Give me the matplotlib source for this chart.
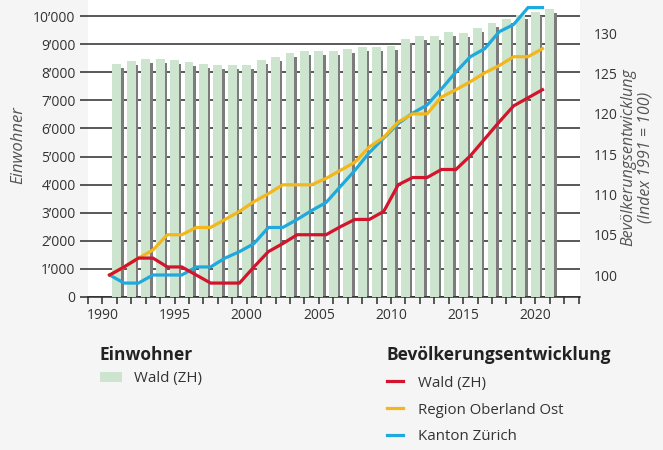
import numpy as np
import matplotlib
matplotlib.use('Agg')
import matplotlib.pyplot as plt
from matplotlib.lines import Line2D
from matplotlib.patches import Patch
from matplotlib.ticker import FuncFormatter, MultipleLocator

plt.rcParams['font.family'] = ['Open Sans', 'DejaVu Sans']

years = np.arange(1991, 2022)

# Einwohner Wald (ZH)
einwohner = [8280, 8400, 8470, 8470, 8435, 8375, 8290, 8255, 8255, 8270,
             8425, 8540, 8670, 8755, 8755, 8745, 8825, 8910, 8910, 8945,
             9180, 9300, 9300, 9420, 9410, 9560, 9740, 9890, 10035, 10150, 10250]

# Bevoelkerungsentwicklung, Index 1991 = 100
idx_wald = [100, 101, 102.1, 102.1, 101, 101, 100, 99, 99, 99,
            101, 102.9, 103.9, 105, 105, 105, 106, 106.9, 106.9, 107.9,
            111.2, 112.1, 112.1, 113.1, 113.1, 114.8, 116.9, 119, 121, 122, 123]
idx_oberland = [100, 101, 102.1, 103.1, 105, 105, 105.9, 105.9, 106.9, 107.9,
                109.1, 110.1, 111.2, 111.2, 111.2, 112, 113, 114, 115.9, 117.1,
                119, 120, 120, 122.1, 123, 124, 125.1, 126, 127.1, 127.1, 128.1]
idx_kanton = [100, 99, 99, 100, 100, 100, 101, 101, 102.1, 102.9,
              103.9, 105.9, 105.9, 106.9, 108, 109, 111, 113, 115.2, 117,
              118.8, 120.1, 121.1, 123.1, 125.2, 127.1, 128.1, 130.2, 131.1, 133.2, 133.2]

green = '#cde4cf'
red = '#d2142c'
yellow = '#f3b61b'
blue = '#1fa9dc'
txt = '#333333'

fig = plt.figure(figsize=(6.63, 4.5), dpi=100, facecolor='#f5f5f5')
ax = fig.add_axes([88 / 663, 153 / 450, 492 / 663, 297 / 450])
ax.set_facecolor('white')

# gridlines behind the bars
for v in range(0, 10001, 1000):
    ax.axhline(v, color='#2b2b2b', lw=1.1, zorder=1)

# bars with a small drop shadow
ax.bar(years + 0.17, np.array(einwohner) - 140, width=0.62, color='#7c7c7c', zorder=2)
ax.bar(years, einwohner, width=0.62, color=green, zorder=3)

ax.set_xlim(1989, 2023.1)
ax.set_ylim(0, 10570)
ax.xaxis.set_major_locator(MultipleLocator(5))
ax.xaxis.set_minor_locator(MultipleLocator(1))
ax.yaxis.set_major_locator(MultipleLocator(1000))
ax.yaxis.set_major_formatter(FuncFormatter(lambda v, p: f'{int(v):,}'.replace(',', '\u2019')))
ax.tick_params(axis='y', length=6, width=1.1, color='#2b2b2b', pad=3,
               labelsize=10, labelcolor=txt)
ax.tick_params(axis='x', which='both', length=5, width=1.1, color='#2b2b2b',
               pad=3, labelsize=10, labelcolor=txt)
for s in ['top', 'left', 'right']:
    ax.spines[s].set_visible(False)
ax.spines['bottom'].set_color('#2b2b2b')
ax.spines['bottom'].set_linewidth(1.1)
ax.set_ylabel('Einwohner', style='italic', color='#555555', fontsize=12, labelpad=5)
ax.yaxis.label.set_y(0.51)

# index lines on the secondary axis
ax2 = ax.twinx()
xl = years - 0.5
ax2.plot(xl, idx_kanton, color=blue, lw=2.3, zorder=4, solid_joinstyle='miter')
ax2.plot(xl, idx_oberland, color=yellow, lw=2.3, zorder=5, solid_joinstyle='miter')
ax2.plot(xl, idx_wald, color=red, lw=2.3, zorder=6, solid_joinstyle='miter')
ax2.set_ylim(97.27, 134.14)
ax2.set_yticks([100, 105, 110, 115, 120, 125, 130])
ax2.tick_params(axis='y', length=0, pad=10, labelsize=10, labelcolor=txt)
for s in ax2.spines.values():
    s.set_visible(False)
ax2.set_ylabel('Bev\u00f6lkerungsentwicklung\n(Index 1991 = 100)', style='italic',
               color='#555555', fontsize=11.5, labelpad=2, linespacing=1.05)
ax2.yaxis.label.set_y(0.47)

# legends
leg1 = fig.legend(handles=[Patch(facecolor=green, edgecolor='none')],
                  labels=['Wald (ZH)'], loc='upper left',
                  bbox_to_anchor=(86 / 663, 1 - 332 / 450), frameon=False,
                  title='Einwohner', alignment='left', fontsize=10.8,
                  title_fontproperties={'weight': 'bold', 'size': 12.5},
                  handlelength=1.5, handleheight=0.65, handletextpad=0.8,
                  labelcolor=txt)
leg1.get_title().set_color('#222222')

line_handles = [Line2D([], [], color=c, lw=2.3) for c in (red, yellow, blue)]
leg2 = fig.legend(handles=line_handles,
                  labels=['Wald (ZH)', 'Region Oberland Ost', 'Kanton Z\u00fcrich'],
                  loc='upper left', bbox_to_anchor=(373 / 663, 1 - 332 / 450),
                  frameon=False, title='Bev\u00f6lkerungsentwicklung', alignment='left',
                  fontsize=10.8, title_fontproperties={'weight': 'bold', 'size': 12.5},
                  handlelength=1.1, handletextpad=1.0, labelspacing=0.8,
                  labelcolor=txt)
leg2.get_title().set_color('#222222')

fig.savefig('out.png', dpi=100, facecolor=fig.get_facecolor())
